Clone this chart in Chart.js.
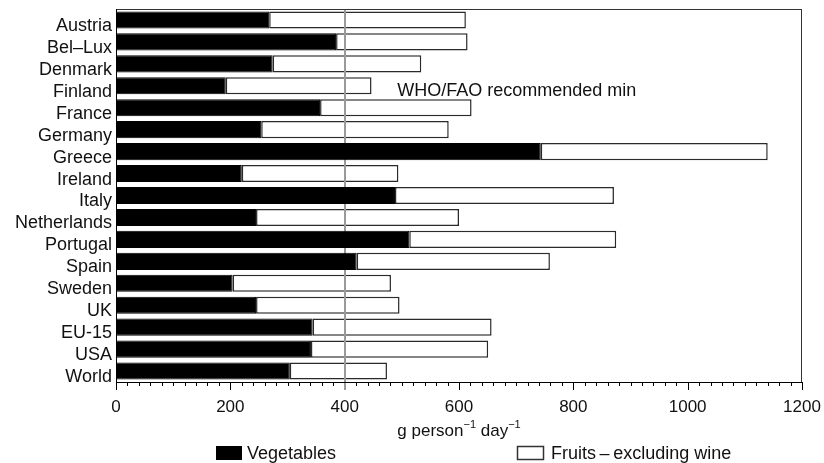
<!DOCTYPE html>
<html><head><meta charset="utf-8">
<script src="https://cdn.jsdelivr.net/npm/chart.js@4/dist/chart.umd.min.js"></script>
<style>html,body{margin:0;padding:0;background:#fff}#wrap{width:824px;height:463px}</style>
</head><body><div id="wrap"><canvas id="c" width="824" height="463"></canvas></div>
<script>
const categories = ['Austria','Bel\u2013Lux','Denmark','Finland','France','Germany','Greece','Ireland','Italy','Netherlands','Portugal','Spain','Sweden','UK','EU-15','USA','World'];
const vegetables = [268,385,274,192,357,254,743,220,488,245,513,421,204,245,344,341,304];
const fruits = [344,230,260,255,265,328,397,274,383,355,362,338,277,251,313,310,170];
const xTicks = [0,200,400,600,800,1000,1200];
const recommendedMin = 400;
const seriesNames = ['Vegetables','Fruits\u2009\u2013\u2009excluding wine'];
const annotationText = 'WHO/FAO recommended min';

const FONT = '"Liberation Sans", Arial, sans-serif';

const extras = {
  id: 'extras',
  afterDatasetDraw(chart, args) {
    if (args.index !== 1) return;
    const {ctx, chartArea: a, scales: {x}} = chart;
    const px = Math.round(x.getPixelForValue(recommendedMin));
    ctx.save();
    ctx.strokeStyle = '#9a9a9a';
    ctx.lineWidth = 2;
    ctx.beginPath(); ctx.moveTo(px, a.top); ctx.lineTo(px, a.bottom + 8); ctx.stroke();
    ctx.restore();
  },
  afterDraw(chart) {
    const {ctx, chartArea: a, scales: {x, y}} = chart;
    ctx.save();
    ctx.strokeStyle = '#333'; ctx.lineWidth = 1;
    ctx.strokeRect(a.left + 0.5, a.top + 0.5, a.right - a.left - 1, a.bottom - a.top);
    ctx.strokeStyle = '#000';
    ctx.beginPath(); ctx.moveTo(a.left + 0.5, a.top); ctx.lineTo(a.left + 0.5, a.bottom + 1); ctx.stroke();
    for (let v = 0; v <= 1200; v += 20) {
      if (v === recommendedMin) continue;
      const px = Math.round(x.getPixelForValue(v)) + 0.5;
      const len = v % 200 === 0 ? 8 : 4;
      ctx.beginPath(); ctx.moveTo(px, a.bottom); ctx.lineTo(px, a.bottom + len); ctx.stroke();
    }
    ctx.beginPath(); ctx.moveTo(a.left, a.bottom + 0.5); ctx.lineTo(a.right, a.bottom + 0.5); ctx.stroke();
    ctx.fillStyle = '#111';
    ctx.font = '18px ' + FONT;
    ctx.textBaseline = 'middle'; ctx.textAlign = 'left';
    ctx.fillText(annotationText, x.getPixelForValue(492), y.getPixelForValue(3) + 5);
    const cx = (a.left + a.right) / 2, ty = 431;
    const parts = [['g person', 17, 0], ['\u22121', 11, -6], [' day', 17, 0], ['\u22121', 11, -6]];
    let w = 0;
    parts.forEach(p => { ctx.font = p[1] + 'px ' + FONT; w += ctx.measureText(p[0]).width; });
    let sx = cx - w / 2;
    parts.forEach(p => { ctx.font = p[1] + 'px ' + FONT; ctx.fillText(p[0], sx, ty + p[2]); sx += ctx.measureText(p[0]).width; });
    const ly = 453;
    ctx.fillStyle = '#000'; ctx.fillRect(216, ly - 7, 26, 14);
    ctx.strokeStyle = '#333'; ctx.lineWidth = 1.5; ctx.strokeRect(517.5, ly - 6.5, 26, 13);
    ctx.fillStyle = '#111'; ctx.font = '18px ' + FONT;
    ctx.fillText(seriesNames[0], 247, ly + 1);
    ctx.fillText(seriesNames[1], 551, ly + 1);
    ctx.restore();
  }
};

new Chart(document.getElementById('c'), {
  type: 'bar',
  data: {
    labels: categories,
    datasets: [
      {label: seriesNames[0], data: vegetables, backgroundColor: '#000', borderColor: '#000', borderWidth: 1, borderSkipped: false, barPercentage: 1, categoryPercentage: 0.78},
      {label: seriesNames[1], data: fruits, backgroundColor: '#fff', borderColor: '#2a2a2a', borderWidth: 1.5, borderSkipped: false, barPercentage: 1, categoryPercentage: 0.78}
    ]
  },
  options: {
    indexAxis: 'y',
    responsive: false,
    animation: false,
    layout: {padding: {left: 0, right: 22, top: 9, bottom: 0}},
    plugins: {legend: {display: false}, tooltip: {enabled: false}},
    scales: {
      x: {
        type: 'linear', stacked: true, min: 0, max: 1200,
        afterBuildTicks(s) { s.ticks = xTicks.map(v => ({value: v})); },
        afterFit(s) { s.height = 81; s.paddingLeft = 0; s.paddingRight = 0; },
        grid: {display: false, drawTicks: false},
        border: {display: false},
        ticks: {padding: 15, color: '#111', font: {family: FONT, size: 17}, maxRotation: 0, callback: v => String(v)}
      },
      y: {
        stacked: true,
        afterFit(s) { s.width = 116; s.paddingTop = 0; s.paddingBottom = 0; },
        grid: {display: false, drawTicks: false},
        border: {display: false},
        ticks: {padding: 4, labelOffset: 6, color: '#111', font: {family: FONT, size: 18}, autoSkip: false}
      }
    }
  },
  plugins: [extras]
});
</script></body></html>
